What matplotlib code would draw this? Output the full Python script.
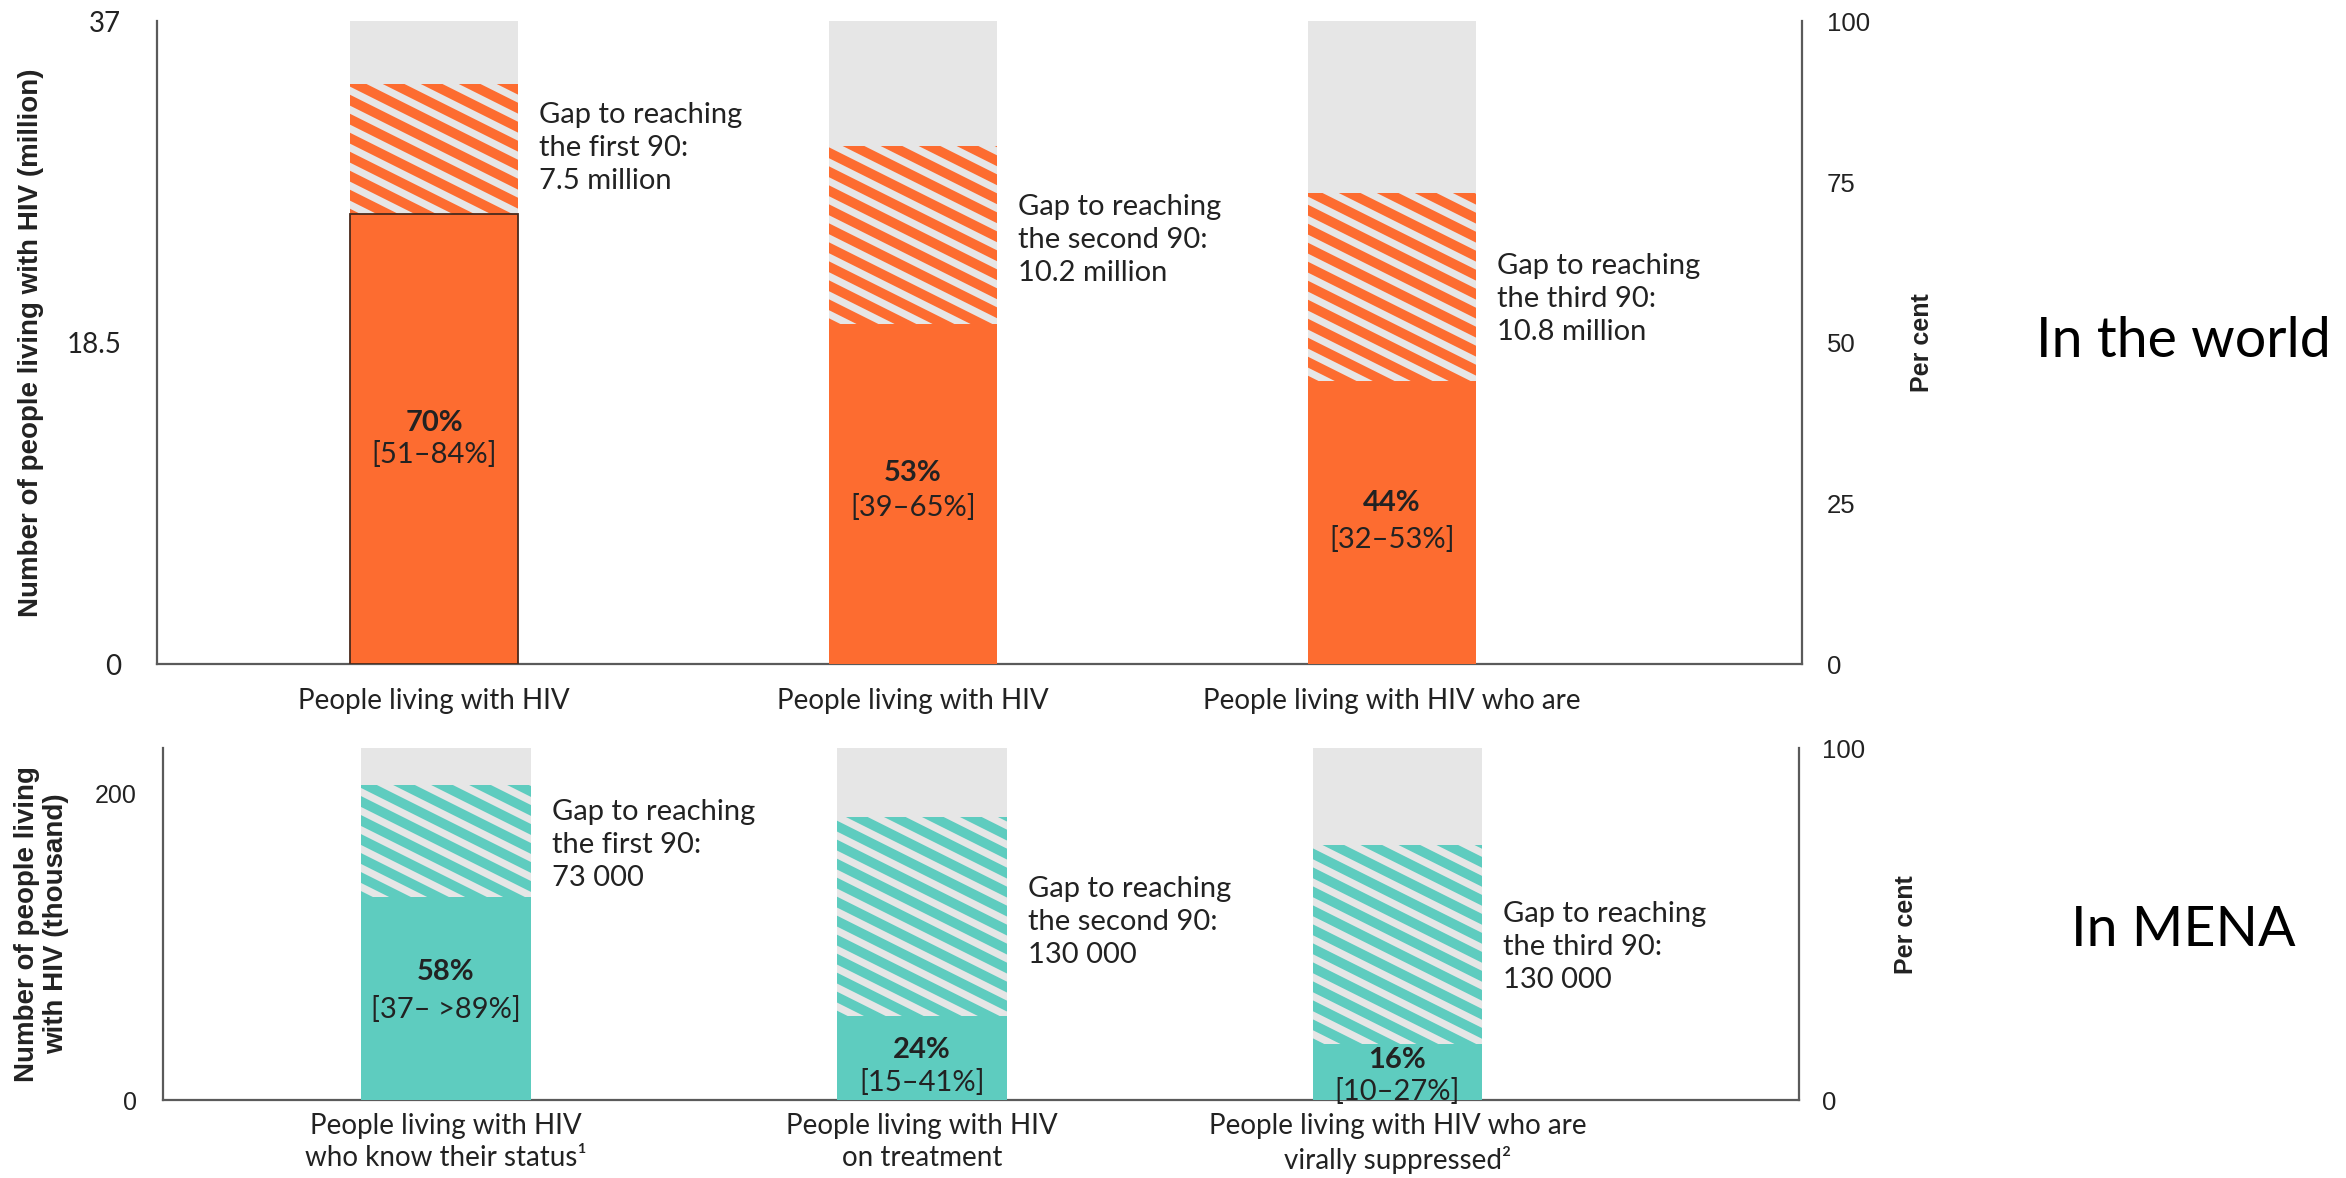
import matplotlib.pyplot as plt
from matplotlib.lines import Line2D
from matplotlib.transforms import IdentityTransform

plt.rcParams['font.family'] = ['Lato', 'DejaVu Sans']

# ---- data ----
# world, million people living with HIV
world_total = 37.0
world_reached = [25.9, 19.6, 16.3]
world_gap = [7.5, 10.2, 10.8]
world_gap_val = ['7.5 million', '10.2 million', '10.8 million']
world_pct = ['70%', '53%', '44%']
world_range = ['[51–84%]', '[39–65%]', '[32–53%]']
world_cats = ['People living with HIV', 'People living with HIV',
              'People living with HIV who are']

# MENA, thousand people living with HIV
mena_total = 230.0
mena_reached = [133, 55, 37]
mena_gap = [73, 130, 130]
mena_gap_val = ['73 000', '130 000', '130 000']
mena_pct = ['58%', '24%', '16%']
mena_range = ['[37– >89%]', '[15–41%]', '[10–27%]']
mena_cats = ['People living with HIV\nwho know their status¹',
             'People living with HIV\non treatment',
             'People living with HIV who are\nvirally suppressed²']

ordinals = ['first', 'second', 'third']

ORANGE = '#FD6C30'
TEAL = '#5ECCBF'
GREY = '#E6E6E6'
DARK = '#222222'
SPINE = '#5a5a5a'

fig = plt.figure(figsize=(23.46, 11.78), dpi=100)


def stripes(ax, patch, color):
    # diagonal stripes like the original (shallower than mpl hatches)
    bb = patch.get_window_extent()
    step = 19.0
    slope = 0.5
    y = bb.y0 - 2 * step
    while y < bb.y1 + slope * bb.width + 2 * step:
        ln = Line2D([bb.x0 - 5, bb.x1 + 5],
                    [y + 5 * slope, y - slope * (bb.width + 5)],
                    transform=IdentityTransform(), color=color,
                    lw=7.0, solid_capstyle='butt', zorder=2.5)
        ax.add_artist(ln)
        ln.set_clip_path(patch)  # after add_artist, else it gets the axes clip
        y += step


def panel(rect, xlim, width, total, reached, gap, gap_val, pct, rng, cats,
          color, lticks, llabels, rticks, ylabel, lab_x, rlab_x,
          pct_y, rng_y, gap_y, lpad, rpad, cpad, lfont, lsize,
          outline_first):
    ax = fig.add_axes(rect)
    x = list(range(len(reached)))
    ax.bar(x, [total] * 3, width, color=GREY, zorder=1)
    gaps = ax.bar(x, gap, width, bottom=reached, color=GREY, zorder=2)
    solid = ax.bar(x, reached, width, color=color, zorder=3)
    if outline_first:
        solid[0].set_edgecolor('#4a2a1c')
        solid[0].set_linewidth(1.3)
    ax.set_xlim(*xlim)
    ax.set_ylim(0, total)
    for p in gaps:
        stripes(ax, p, color)

    for i in x:
        ax.text(i, pct_y[i], pct[i], ha='center', va='center', fontsize=21,
                fontweight='bold', color=DARK, zorder=5)
        ax.text(i, rng_y[i], rng[i], ha='center', va='center', fontsize=21,
                color=DARK, zorder=5)
        ax.text(i + width / 2 + 0.044, gap_y[i],
                f'Gap to reaching\nthe {ordinals[i]} 90:\n{gap_val[i]}',
                ha='left', va='center', fontsize=21, color=DARK,
                linespacing=1.33)

    ax.set_xticks(x)
    ax.set_xticklabels(cats, fontsize=20, color=DARK, linespacing=1.3)
    ax.set_yticks(lticks)
    ax.set_yticklabels(llabels, fontsize=lsize, color=DARK, family=lfont)
    ax.tick_params(axis='both', length=0)
    ax.tick_params(axis='y', pad=lpad)
    ax.tick_params(axis='x', pad=cpad)
    for s in ['top', 'right']:
        ax.spines[s].set_visible(False)
    for s in ['left', 'bottom']:
        ax.spines[s].set_color(SPINE)
        ax.spines[s].set_linewidth(1.6)
    ax.set_ylabel(ylabel, fontsize=20, fontweight='bold',
                  family='Liberation Sans', color=DARK, linespacing=1.15,
                  va='center')
    ax.yaxis.set_label_coords(lab_x, 0.5)

    ax2 = ax.twinx()
    ax2.set_ylim(0, 100)
    ax2.set_yticks(rticks)
    ax2.set_yticklabels([str(t) for t in rticks], fontsize=18.5,
                        family='Liberation Sans', color=DARK)
    ax2.tick_params(axis='y', length=0, pad=rpad)
    for s in ['top', 'left', 'bottom']:
        ax2.spines[s].set_visible(False)
    ax2.spines['right'].set_color(SPINE)
    ax2.spines['right'].set_linewidth(1.6)
    ax2.set_ylabel('Per cent', fontsize=18, fontweight='bold',
                   family='Liberation Sans', color=DARK, va='center')
    ax2.yaxis.set_label_coords(rlab_x, 0.5)
    return ax


panel([0.067, 0.436, 0.701, 0.546], (-0.578, 2.856), 0.351,
      world_total, world_reached, world_gap, world_gap_val, world_pct,
      world_range, world_cats, ORANGE,
      [0, 18.5, 37], ['0', '18.5', '37'], [0, 25, 50, 75, 100],
      'Number of people living with HIV (million)', -0.077, 1.073,
      [13.9, 11.0, 9.3], [12.1, 9.0, 7.2], [29.7, 24.4, 21.0],
      26, 18, 17, ['Lato', 'DejaVu Sans'], 20, True)

panel([0.0695, 0.066, 0.6975, 0.299], (-0.595, 2.845), 0.357,
      mena_total, mena_reached, mena_gap, mena_gap_val, mena_pct,
      mena_range, mena_cats, TEAL,
      [0, 200], ['0', '200'], [0, 100],
      'Number of people living\nwith HIV (thousand)', -0.074, 1.065,
      [83.5, 33.0, 26.2], [59.2, 11.6, 5.8], [166.9, 116.5, 100.0],
      19, 16, 9, ['Liberation Sans', 'DejaVu Sans'], 18, False)

fig.text(0.9307, 0.7097, 'In the world', ha='center', va='center',
         fontsize=40, color='black')
fig.text(0.9307, 0.2097, 'In MENA', ha='center', va='center',
         fontsize=40, color='black')

fig.savefig('out.png', dpi=100)
